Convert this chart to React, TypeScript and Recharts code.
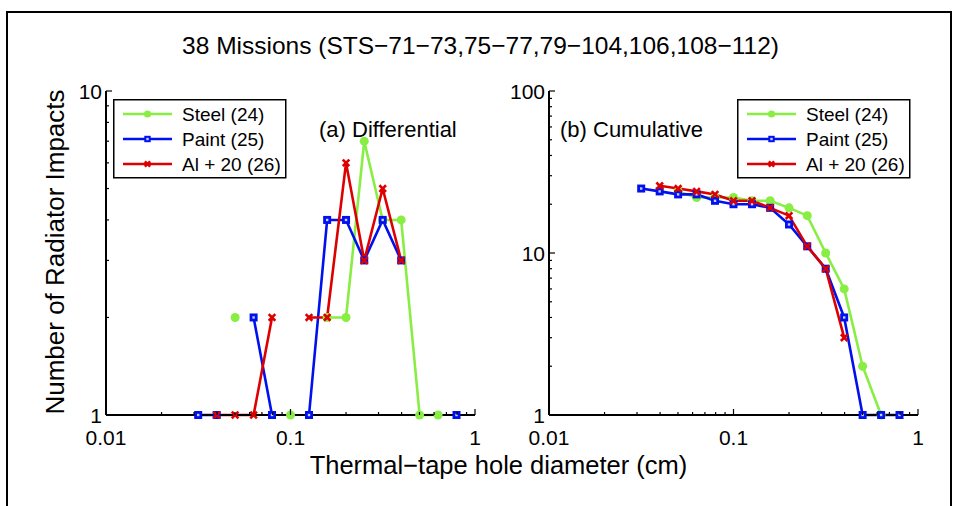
import React from 'react';
import { LineChart, Line, XAxis, YAxis, Legend } from 'recharts';

// hole diameter bins (cm), log spaced
const diameters = [0.0316, 0.0398, 0.0501, 0.0631, 0.0794, 0.1, 0.126, 0.158, 0.2, 0.251, 0.316, 0.398, 0.501, 0.631, 0.794];

// (a) differential counts, null = no impacts in that bin
const steelDiff = [null, null, 2, null, null, 1, null, 2, 2, 7, 4, 4, 1, 1, null];
const paintDiff = [1, 1, null, 2, 1, null, 1, 4, 4, 3, 4, 3, null, null, 1];
const alDiff = [null, 1, 1, 1, 2, null, 2, 2, 6, 3, 5, 3, null, null, null];

// (b) cumulative counts
const steelCum = [null, null, 24, 22, 22, 22, 21, 21, 19, 17, 10, 6, 2, 1, null];
const paintCum = [25, 24, 23, 23, 21, 20, 20, 19, 15, 11, 8, 4, 1, 1, 1];
const alCum = [null, 26, 25, 24, 23, 21, 21, 19, 17, 11, 8, 3, null, null, null];

const xTicks = [0.01, 0.02, 0.03, 0.04, 0.05, 0.06, 0.07, 0.08, 0.09, 0.1, 0.2, 0.3, 0.4, 0.5, 0.6, 0.7, 0.8, 0.9, 1];
const yTicksDiff = [1, 2, 3, 4, 5, 6, 7, 8, 9, 10];
const yTicksCum = [1, 2, 3, 4, 5, 6, 7, 8, 9, 10, 20, 30, 40, 50, 60, 70, 80, 90, 100];

const seriesNames = ['Steel (24)', 'Paint (25)', 'Al + 20 (26)'];
const seriesKeys = ['steel', 'paint', 'al'];
const seriesColors = ['#88EE44', '#0011EE', '#DD0000'];

const FONT = '"Liberation Sans", Arial, Helvetica, sans-serif';

const diffData = diameters.map((d, i) => ({ d, steel: steelDiff[i], paint: paintDiff[i], al: alDiff[i] }));
const cumData = diameters.map((d, i) => ({ d, steel: steelCum[i], paint: paintCum[i], al: alCum[i] }));

const isMajor = (v: number) => Math.abs(Math.log10(v) - Math.round(Math.log10(v))) < 1e-6;

function Marker({ kind, cx, cy, color, s = 1 }: any) {
  if (cx == null || cy == null || isNaN(cx) || isNaN(cy)) return null;
  if (kind === 'steel') return <circle cx={cx} cy={cy} r={4.5 * s} fill={color} />;
  if (kind === 'paint')
    return (
      <g>
        <rect x={cx - 4 * s} y={cy - 4 * s} width={8 * s} height={8 * s} fill={color} />
        <rect x={cx - 1.2} y={cy - 1.2} width={2.4} height={2.4} fill="#c8ccff" />
      </g>
    );
  const a = 3.3 * s;
  return (
    <g stroke={color} strokeWidth={2.6}>
      <line x1={cx - a} y1={cy - a} x2={cx + a} y2={cy + a} />
      <line x1={cx - a} y1={cy + a} x2={cx + a} y2={cy - a} />
    </g>
  );
}

const bottomTick = (p: any) => {
  const v = p.payload.value;
  const maj = isMajor(v);
  return (
    <g>
      <line x1={p.x} y1={p.y} x2={p.x} y2={p.y - (maj ? 6 : 3)} stroke="#000" strokeWidth={1.2} />
      {maj && (
        <text x={p.x} y={p.y + 30} textAnchor="middle" fontSize={21} fontFamily={FONT} fill="#000">
          {String(v)}
        </text>
      )}
    </g>
  );
};
const topTick = (p: any) => {
  const maj = isMajor(p.payload.value);
  return <line x1={p.x} y1={p.y} x2={p.x} y2={p.y + (maj ? 6 : 3)} stroke="#000" strokeWidth={1.2} />;
};
const leftTick = (p: any) => {
  const v = p.payload.value;
  const maj = isMajor(v);
  return (
    <g>
      <line x1={p.x} y1={p.y} x2={p.x + (maj ? 6 : 3)} y2={p.y} stroke="#000" strokeWidth={1.2} />
      {maj && (
        <text x={p.x - 4} y={p.y + 7.5} textAnchor="end" fontSize={21} fontFamily={FONT} fill="#000">
          {String(v)}
        </text>
      )}
    </g>
  );
};
const rightTick = (p: any) => {
  const maj = isMajor(p.payload.value);
  return <line x1={p.x} y1={p.y} x2={p.x - (maj ? 6 : 3)} y2={p.y} stroke="#000" strokeWidth={1.2} />;
};

function LegendBox() {
  return (
    <svg width={174} height={80} style={{ display: 'block' }}>
      <rect x={0.75} y={0.75} width={172} height={78} fill="#fff" stroke="#000" strokeWidth={1.5} />
      {seriesNames.map((n, i) => {
        const y = 15 + i * 25;
        return (
          <g key={n}>
            <line x1={10} y1={y} x2={59} y2={y} stroke={seriesColors[i]} strokeWidth={2.5} />
            <Marker kind={seriesKeys[i]} cx={34.5} cy={y} color={seriesColors[i]} s={0.8} />
            <text x={69} y={y + 7} fontSize={19} fontFamily={FONT} fill="#000">
              {n}
            </text>
          </g>
        );
      })}
    </svg>
  );
}

function Panel({ data, yDomain, yTicks, width, yAxisW, marginRight, legendLeft }: any) {
  return (
    <LineChart width={width} height={506} data={data} margin={{ top: 91, right: marginRight, bottom: 0, left: 0 }}>
      <XAxis xAxisId="b" dataKey="d" type="number" scale="log" domain={[0.01, 1]} ticks={xTicks} interval={0}
        tickSize={0} tickMargin={0} tickLine={false} tick={bottomTick} height={91}
        axisLine={{ stroke: '#000', strokeWidth: 2 }} />
      <XAxis xAxisId="t" dataKey="d" orientation="top" type="number" scale="log" domain={[0.01, 1]} ticks={xTicks}
        interval={0} tickSize={0} tickMargin={0} tickLine={false} tick={topTick} height={0}
        axisLine={{ stroke: '#000', strokeWidth: 1.2 }} />
      <YAxis yAxisId="l" type="number" scale="log" domain={yDomain} ticks={yTicks} interval={0}
        tickSize={0} tickMargin={0} tickLine={false} tick={leftTick} width={yAxisW}
        axisLine={{ stroke: '#000', strokeWidth: 2 }} />
      <YAxis yAxisId="r" orientation="right" type="number" scale="log" domain={yDomain} ticks={yTicks} interval={0}
        tickSize={0} tickMargin={0} tickLine={false} tick={rightTick} width={0}
        axisLine={{ stroke: '#000', strokeWidth: 1.2 }} />
      <Legend content={() => <LegendBox />} verticalAlign="middle" align="center" layout="vertical"
        wrapperStyle={{ left: legendLeft, top: 99, width: 174, height: 80 }} />
      {seriesKeys.map((k, i) => (
        <Line key={k} xAxisId="b" yAxisId="l" dataKey={k} name={seriesNames[i]} stroke={seriesColors[i]}
          strokeWidth={2.6} isAnimationActive={false} connectNulls={false}
          dot={(p: any) => <Marker key={p.index} kind={k} cx={p.cx} cy={p.cy} color={seriesColors[i]} />}
          activeDot={false} />
      ))}
    </LineChart>
  );
}

export default function App() {
  return (
    <div style={{ position: 'absolute', left: 0, top: 0, width: 961, height: 506, background: '#fff', overflow: 'hidden', fontFamily: FONT, color: '#000' }}>
      <div style={{ position: 'absolute', left: 6, top: 11, width: 942, height: 520, border: '2.5px solid #000' }} />
      <div style={{ position: 'absolute', left: 0, top: 31, width: 961, textAlign: 'center', fontSize: 24.5, lineHeight: '30px' }}>
        38 Missions (STS−71−73,75−77,79−104,106,108−112)
      </div>
      <div style={{ position: 'absolute', left: 0, top: 0 }}>
        <Panel data={diffData} yDomain={[1, 10]} yTicks={yTicksDiff} width={500} yAxisW={106} marginRight={25} legendLeft={113} />
      </div>
      <div style={{ position: 'absolute', left: 460, top: 0 }}>
        <Panel data={cumData} yDomain={[1, 100]} yTicks={yTicksCum} width={501} yAxisW={89} marginRight={43} legendLeft={277} />
      </div>
      <div style={{ position: 'absolute', left: 319, top: 117, fontSize: 22, lineHeight: '26px', whiteSpace: 'nowrap' }}>(a) Differential</div>
      <div style={{ position: 'absolute', left: 560, top: 117, fontSize: 22, lineHeight: '26px', whiteSpace: 'nowrap' }}>(b) Cumulative</div>
      <div style={{ position: 'absolute', left: 0, top: 450, width: 997, textAlign: 'center', fontSize: 25.5, lineHeight: '30px' }}>
        Thermal−tape hole diameter (cm)
      </div>
      <div style={{ position: 'absolute', left: 55, top: 252, transform: 'translate(-50%, -50%) rotate(-90deg)', fontSize: 26, lineHeight: '30px', whiteSpace: 'nowrap' }}>
        Number of Radiator Impacts
      </div>
    </div>
  );
}
